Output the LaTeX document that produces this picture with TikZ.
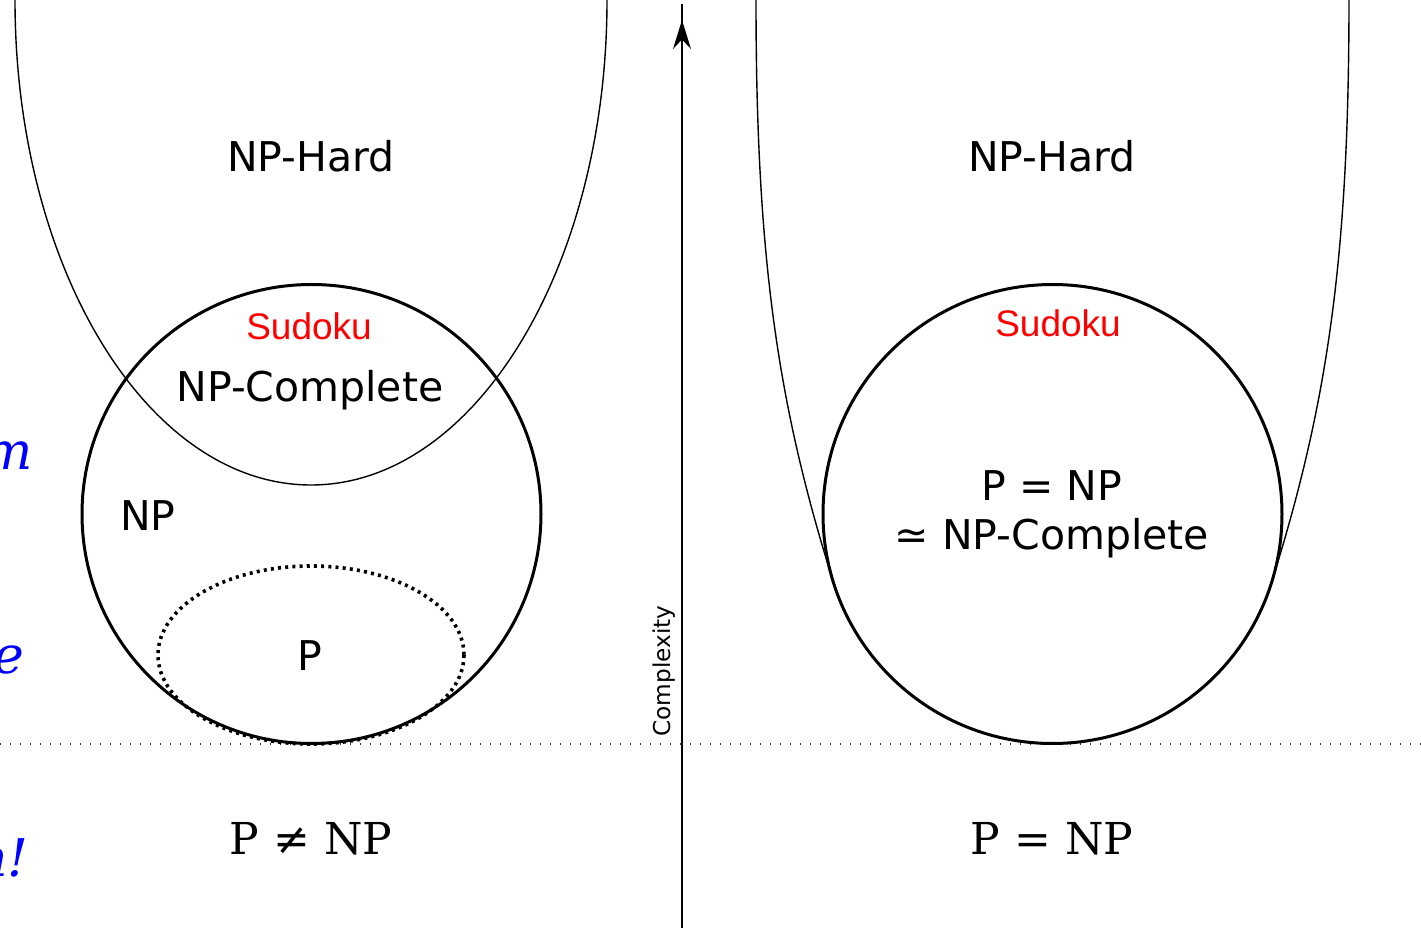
\documentclass[tikz,border=0pt]{standalone}
\usepackage{fontspec}
\setmainfont{DejaVu Serif}
\setsansfont{DejaVu Sans}
\newfontfamily\arialfont{Liberation Sans}
\usetikzlibrary{calc, positioning}
\usetikzlibrary{arrows.meta}

\tikzset{
    setcircle/.style={line width=1.5pt},
    hardline/.style={line width=0.7pt},
    pset/.style={line width=1.8pt, dash pattern=on 1.5pt off 2.1pt},
    floorline/.style={line width=0.6pt, dash pattern=on 0.6pt off 4.4pt, black!80},
    classlabel/.style={font=\sffamily\fontsize{20.5}{24}\selectfont, inner sep=0pt},
    sudlabel/.style={font=\arialfont\fontsize{18.5}{22}\selectfont, text=red, inner sep=0pt},
    verdict/.style={font=\rmfamily\fontsize{22}{26}\selectfont, inner sep=0pt},
    cutoff/.style={font=\rmfamily\itshape\fontsize{26}{30}\selectfont, text=blue, inner sep=0pt, anchor=base east}
}

\begin{document}
\begin{tikzpicture}[x=0.5pt, y=-0.5pt, >=Stealth]
        \useasboundingbox (0,0) rectangle (1421,930);

        \coordinate (CL) at (311.5,514);
        \coordinate (CR) at (1052.5,514);

        % floor of the complexity axis
        \coordinate (F0) at (0,744);
        \coordinate (F1) at (1421,744);
        \draw[floorline] (F0) -- (F1);

        % complexity axis
        \coordinate (Abot) at (682,928);
        \coordinate (Atop) at (682,4);
        \coordinate (Atip) at (682,20);
        \draw[line width=0.8pt] (Abot) -- (Atop);
        \draw[line width=0.8pt, -{Stealth[length=14.5pt, width=9pt]}] (682,70) -- (Atip);
        \node[font=\sffamily\fontsize{11.6}{14}\selectfont, rotate=90, inner sep=0pt]
            (cplx) at (664,671) {Complexity};

        % left: P != NP
        \draw[hardline] (15,0) arc[start angle=180, end angle=0, x radius=296, y radius=485];
        \draw[pset] (311,655) ellipse[x radius=153, y radius=89];
        \draw[setcircle] (CL) circle[radius=229.5];

        \node[classlabel] (nphL) at (311,156) {NP-Hard};
        \node[sudlabel] (sudL) at (309,326) {Sudoku};
        \node[classlabel] (npcL) at (310,390) {NP-Complete};
        \node[classlabel] (npL) at (148,516) {NP};
        \node[classlabel] (pL) at (310,656) {P};
        \node[verdict] (neqL) at (311,839) {P ≠ NP};

        % right: P = NP
        \coordinate (TL) at (832.7,580);
        \coordinate (TR) at (1272.3,580);
        \draw[hardline] (756,0) .. controls (756,260) and (778,405) .. (TL);
        \draw[hardline] (1349,0) .. controls (1349,260) and (1327,405) .. (TR);
        \draw[setcircle] (CR) circle[radius=229.5];

        \node[classlabel] (nphR) at (1052,156) {NP-Hard};
        \node[sudlabel] (sudR) at (1058,323) {Sudoku};
        \node[classlabel] (peqR) at (1052,486) {P = NP};
        \node[classlabel] (eqR) at (1052,538) {≃ NP-Complete};
        \node[verdict] (eqNP) at (1052,839) {P = NP};

        % slide text cut off at the left edge
        \node[cutoff] (cutM) at (33,470) {m};
        \node[cutoff] (cutE) at (25,674) {e};
        \node[cutoff] (cutN) at (29,877) {n!};
    \end{tikzpicture}
\end{document}
